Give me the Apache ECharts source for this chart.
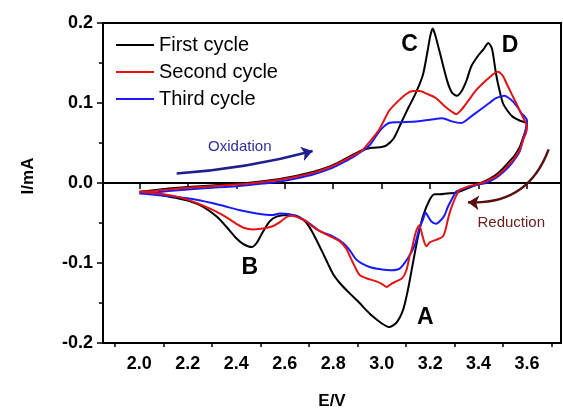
<!DOCTYPE html>
<html>
<head>
<meta charset="utf-8">
<script src="https://cdn.jsdelivr.net/npm/echarts@6/dist/echarts.min.js"></script>
<style>
  html, body { margin: 0; padding: 0; background: #ffffff; }
  #chart { width: 563px; height: 408px; }
</style>
</head>
<body>
<div id="chart"></div>
<script>
// Cyclic voltammograms: [potential E (V), current I (mA)], scanned anodically from 2.0 V
// to 3.6 V and back again.
const firstCycle = [
  [2.00,-0.011],[2.06,-0.009],[2.12,-0.007],[2.20,-0.005],[2.30,-0.003],[2.40,-0.001],
  [2.50,0.002],[2.58,0.005],[2.65,0.009],[2.72,0.014],[2.78,0.020],[2.83,0.027],
  [2.88,0.035],[2.92,0.041],[2.96,0.044],[3.00,0.045],[3.02,0.047],[3.05,0.056],
  [3.08,0.075],[3.11,0.094],[3.14,0.112],[3.17,0.135],[3.19,0.166],[3.20,0.183],
  [3.21,0.193],[3.22,0.186],[3.24,0.163],[3.27,0.128],[3.29,0.113],[3.31,0.109],
  [3.33,0.115],[3.35,0.128],[3.37,0.146],[3.40,0.160],[3.42,0.167],[3.44,0.175],
  [3.455,0.168],[3.47,0.140],[3.48,0.124],[3.50,0.100],[3.52,0.090],[3.54,0.083],
  [3.57,0.078],[3.60,0.074],
  [3.595,0.066],[3.585,0.058],[3.57,0.045],[3.55,0.035],[3.527,0.027],[3.50,0.018],
  [3.47,0.010],[3.43,0.003],[3.40,-0.001],[3.36,-0.006],[3.31,-0.012],[3.27,-0.013],
  [3.24,-0.014],[3.218,-0.014],[3.198,-0.021],[3.17,-0.042],[3.15,-0.067],[3.129,-0.100],
  [3.108,-0.134],[3.088,-0.159],[3.06,-0.175],[3.03,-0.180],[2.998,-0.175],[2.964,-0.167],
  [2.93,-0.157],[2.909,-0.150],[2.868,-0.138],[2.827,-0.125],[2.80,-0.114],[2.78,-0.102],
  [2.758,-0.088],[2.737,-0.075],[2.717,-0.063],[2.695,-0.052],[2.676,-0.046],[2.648,-0.041],
  [2.607,-0.040],[2.566,-0.042],[2.538,-0.048],[2.51,-0.061],[2.484,-0.075],[2.463,-0.080],
  [2.428,-0.076],[2.40,-0.069],[2.36,-0.055],[2.319,-0.042],[2.264,-0.030],[2.209,-0.023],
  [2.14,-0.018],[2.072,-0.014],[2.00,-0.011]
];

const secondCycle = [
  [2.00,-0.011],[2.06,-0.010],[2.12,-0.008],[2.20,-0.006],[2.30,-0.004],[2.40,-0.002],
  [2.50,0.001],[2.58,0.004],[2.65,0.008],[2.72,0.013],[2.78,0.019],[2.83,0.026],
  [2.88,0.034],[2.92,0.041],[2.957,0.054],[2.99,0.067],[3.03,0.090],[3.06,0.100],
  [3.10,0.111],[3.13,0.115],[3.156,0.115],[3.19,0.111],[3.225,0.106],[3.26,0.096],
  [3.29,0.089],[3.307,0.086],[3.33,0.092],[3.36,0.104],[3.39,0.116],[3.43,0.128],
  [3.46,0.136],[3.479,0.139],[3.50,0.134],[3.513,0.126],[3.535,0.112],[3.555,0.100],
  [3.575,0.087],[3.595,0.075],[3.60,0.070],
  [3.595,0.062],[3.585,0.055],[3.57,0.042],[3.55,0.032],[3.527,0.024],[3.50,0.015],
  [3.47,0.008],[3.43,0.002],[3.40,-0.001],[3.36,-0.004],[3.335,-0.007],[3.32,-0.009],
  [3.30,-0.021],[3.285,-0.033],[3.273,-0.046],[3.262,-0.060],[3.252,-0.067],[3.225,-0.071],
  [3.20,-0.074],[3.184,-0.079],[3.17,-0.068],[3.155,-0.053],[3.145,-0.058],[3.136,-0.067],
  [3.125,-0.082],[3.115,-0.092],[3.102,-0.109],[3.085,-0.119],[3.06,-0.123],[3.04,-0.126],
  [3.02,-0.130],[3.00,-0.126],[2.978,-0.123],[2.937,-0.119],[2.909,-0.115],[2.895,-0.108],
  [2.882,-0.100],[2.868,-0.091],[2.854,-0.082],[2.827,-0.073],[2.79,-0.067],[2.744,-0.060],
  [2.717,-0.055],[2.69,-0.048],[2.662,-0.044],[2.63,-0.041],[2.61,-0.042],[2.58,-0.049],
  [2.55,-0.054],[2.51,-0.057],[2.47,-0.058],[2.43,-0.056],[2.40,-0.051],[2.36,-0.043],
  [2.305,-0.034],[2.236,-0.025],[2.168,-0.018],[2.10,-0.014],[2.00,-0.011]
];

const thirdCycle = [
  [2.00,-0.013],[2.06,-0.012],[2.12,-0.010],[2.20,-0.008],[2.30,-0.006],[2.40,-0.004],
  [2.50,-0.001],[2.58,0.002],[2.65,0.006],[2.72,0.011],[2.78,0.017],[2.83,0.024],
  [2.88,0.032],[2.92,0.040],[2.95,0.047],[2.98,0.060],[3.00,0.068],[3.03,0.075],
  [3.07,0.076],[3.143,0.077],[3.20,0.079],[3.25,0.081],[3.29,0.077],[3.328,0.075],
  [3.36,0.081],[3.404,0.091],[3.44,0.099],[3.472,0.106],[3.506,0.109],[3.534,0.104],
  [3.555,0.097],[3.575,0.088],[3.60,0.078],
  [3.595,0.068],[3.585,0.056],[3.57,0.040],[3.55,0.030],[3.527,0.021],[3.50,0.013],
  [3.47,0.006],[3.43,0.000],[3.40,-0.002],[3.36,-0.005],[3.33,-0.008],[3.307,-0.011],
  [3.29,-0.020],[3.273,-0.030],[3.26,-0.040],[3.246,-0.046],[3.225,-0.051],[3.205,-0.048],
  [3.19,-0.041],[3.181,-0.037],[3.17,-0.046],[3.157,-0.055],[3.136,-0.078],[3.108,-0.094],
  [3.074,-0.107],[3.04,-0.109],[3.00,-0.108],[2.95,-0.105],[2.896,-0.096],[2.868,-0.084],
  [2.841,-0.075],[2.80,-0.067],[2.744,-0.060],[2.70,-0.050],[2.66,-0.043],[2.62,-0.039],
  [2.58,-0.038],[2.55,-0.040],[2.484,-0.038],[2.415,-0.034],[2.332,-0.0275],[2.236,-0.021],
  [2.14,-0.017],[2.04,-0.014],[2.00,-0.013]
];

const cycleNames = ['First cycle', 'Second cycle', 'Third cycle'];
const xTickValues = [2.0, 2.2, 2.4, 2.6, 2.8, 3.0, 3.2, 3.4, 3.6];
const xMinorTickValues = [1.9, 2.1, 2.3, 2.5, 2.7, 2.9, 3.1, 3.3, 3.5, 3.7];

// Peak letters and scan-direction notes, anchored in (E, I) data space.
const peakLetters = ['C', 'D', 'A', 'B'];
const peakAnchors = [[3.115, 0.1725], [3.530, 0.172], [3.180, -0.168], [2.456, -0.106]];
const scanNotes = ['Oxidation', 'Reduction'];
const scanNoteAnchors = [[2.4145, 0.0446], [3.5347, -0.0504]];
const oxidationArrow = [[2.154, 0.012], [2.715, 0.040]];
const reductionArrow = [[3.689, 0.042], [3.356, -0.024]];

const FONT = 'Arial, "Liberation Sans", Helvetica, sans-serif';
const colors = ['#000000', '#e01414', '#1a1aff'];
const noteColors = ['#2e2e9e', '#6a2020'];

const chart = echarts.init(document.getElementById('chart'), null, { renderer: 'canvas' });

function cycleSeries(name, data, color, z) {
  return {
    name: name,
    type: 'line',
    data: data,
    symbol: 'none',
    smooth: 0.25,
    z: z,
    lineStyle: { color: color, width: 2 },
    itemStyle: { color: color },
    emphasis: { disabled: true }
  };
}

const hiddenPoint = { color: 'rgba(0,0,0,0)', opacity: 1 };

const option = {
  animation: false,
  backgroundColor: '#ffffff',
  textStyle: { fontFamily: FONT },
  grid: {
    left: 103, right: 2, top: 23, bottom: 65,
    outerBoundsMode: 'none',
    containLabel: false,
    show: true, borderColor: '#000', borderWidth: 2, backgroundColor: 'transparent'
  },
  legend: {
    data: cycleNames.map(n => ({ name: n, icon: 'rect' })),
    orient: 'vertical',
    left: 111,
    top: 30,
    itemWidth: 38,
    itemHeight: 2,
    itemGap: 7,
    textStyle: { fontSize: 20, color: '#000', fontFamily: FONT },
    selectedMode: false
  },
  xAxis: [
    {
      type: 'value',
      min: 1.85,
      max: 3.74,
      name: 'E/V',
      nameLocation: 'middle',
      nameGap: 50,
      nameTextStyle: { fontSize: 17, fontWeight: 'bold', color: '#000', fontFamily: FONT },
      axisLine: { show: true, lineStyle: { color: '#000', width: 2 } },
      axisTick: { show: true, customValues: xTickValues, length: 6, lineStyle: { color: '#000', width: 1.5 } },
      axisLabel: {
        customValues: xTickValues,
        margin: 12,
        fontSize: 18,
        fontWeight: 'bold',
        color: '#000',
        fontFamily: FONT,
        formatter: v => v.toFixed(1)
      },
      splitLine: { show: false }
    },
    {
      type: 'value',
      min: 1.85,
      max: 3.74,
      position: 'bottom',
      axisLine: { show: false },
      axisTick: { show: true, customValues: xMinorTickValues, length: 4, lineStyle: { color: '#000', width: 1.5 } },
      axisLabel: { show: false },
      splitLine: { show: false }
    }
  ],
  yAxis: {
    type: 'value',
    min: -0.2,
    max: 0.2,
    interval: 0.1,
    name: 'I/mA',
    nameLocation: 'middle',
    nameGap: 66,
    nameTextStyle: { fontSize: 17, fontWeight: 'bold', color: '#000', fontFamily: FONT, padding: [0, 0, 0, 14] },
    axisLine: { show: true, lineStyle: { color: '#000', width: 2 } },
    axisTick: { show: true, length: 6, lineStyle: { color: '#000', width: 1.5 } },
    minorTick: { show: true, splitNumber: 2, length: 4, lineStyle: { color: '#000', width: 1.5 } },
    axisLabel: {
      margin: 10,
      fontSize: 18,
      fontWeight: 'bold',
      color: '#000',
      fontFamily: FONT,
      formatter: v => v.toFixed(1)
    },
    splitLine: { show: false }
  },
  series: [
    cycleSeries(cycleNames[0], firstCycle, colors[0], 2),
    cycleSeries(cycleNames[2], thirdCycle, colors[2], 3),
    cycleSeries(cycleNames[1], secondCycle, colors[1], 4),
    {
      name: 'peaks',
      type: 'scatter',
      symbolSize: 1,
      itemStyle: hiddenPoint,
      silent: true,
      z: 6,
      data: peakLetters.map((t, i) => ({ name: t, value: peakAnchors[i] })),
      label: {
        show: true,
        position: 'inside',
        formatter: '{b}',
        fontSize: 23,
        fontWeight: 'bold',
        color: '#000',
        opacity: 1,
        fontFamily: FONT
      }
    },
    {
      name: 'scan notes',
      type: 'scatter',
      symbolSize: 1,
      itemStyle: hiddenPoint,
      silent: true,
      z: 6,
      data: scanNotes.map((t, i) => ({
        name: t,
        value: scanNoteAnchors[i],
        label: { color: noteColors[i] }
      })),
      label: {
        show: true,
        position: 'inside',
        formatter: '{b}',
        fontSize: 15,
        opacity: 1,
        fontFamily: FONT
      }
    },
    {
      name: 'scan arrows',
      type: 'lines',
      coordinateSystem: 'cartesian2d',
      silent: true,
      z: 5,
      symbol: ['none', 'arrow'],
      symbolSize: 11,
      data: [
        { coords: oxidationArrow, lineStyle: { color: '#1f1f90', width: 2.5, opacity: 1, curveness: -0.05 } },
        { coords: reductionArrow, lineStyle: { color: '#5a1010', width: 2.5, opacity: 1, curveness: 0.37 } }
      ]
    }
  ]
};

chart.setOption(option);
</script>
</body>
</html>
